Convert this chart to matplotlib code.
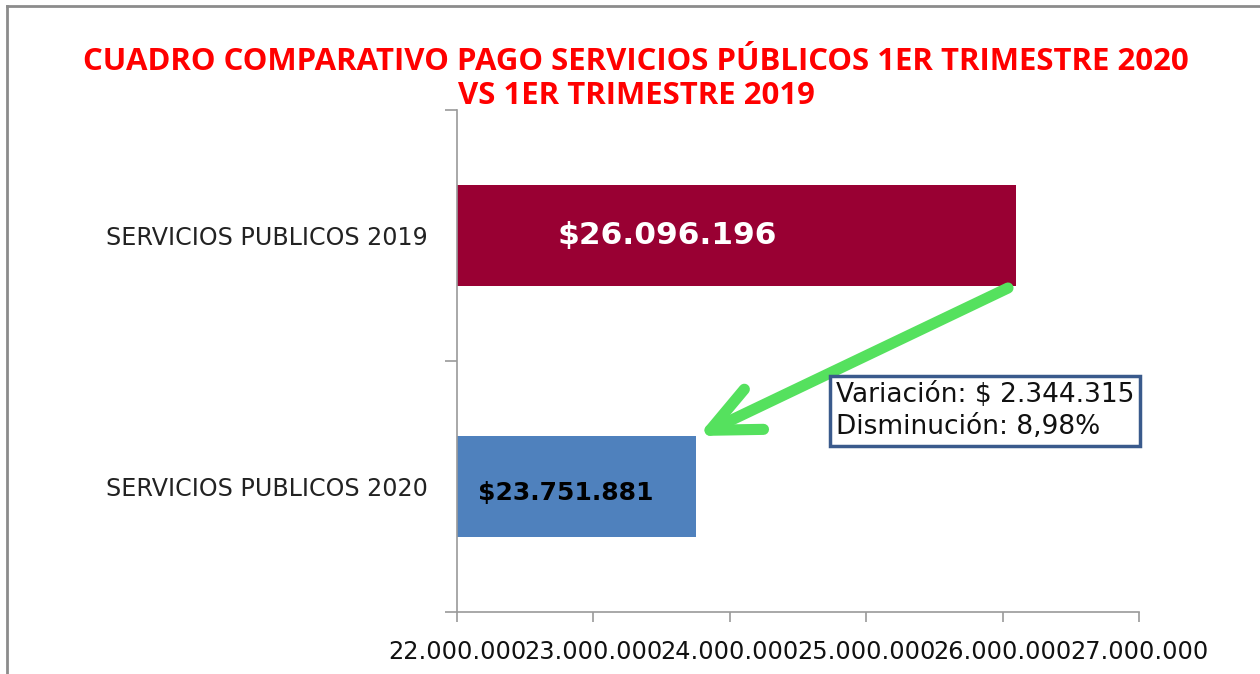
import matplotlib
matplotlib.use("Agg")
import matplotlib.pyplot as plt
from matplotlib import font_manager as fm
from matplotlib.patches import FancyArrowPatch
from matplotlib.lines import Line2D

categories = ["SERVICIOS PUBLICOS 2020", "SERVICIOS PUBLICOS 2019"]
values = [23751881, 26096196]
value_labels = ["$23.751.881", "$26.096.196"]
xticks = [22000000, 23000000, 24000000, 25000000, 26000000, 27000000]
xtick_labels = ["22.000.000", "23.000.000", "24.000.000", "25.000.000", "26.000.000", "27.000.000"]
title = "CUADRO COMPARATIVO PAGO SERVICIOS PÚBLICOS 1ER TRIMESTRE 2020\nVS 1ER TRIMESTRE 2019"
note = "Variación: $ 2.344.315\nDisminución: 8,98%"

avail = {f.name for f in fm.fontManager.ttflist}
def pick(*names):
    for n in names:
        if n in avail:
            return n
    return "DejaVu Sans"
narrow = pick("Open Sans", "Lato")

fig = plt.figure(figsize=(12.6, 6.74), dpi=100)
fig.patch.set_facecolor("white")

# outer frame (left and top)
fig.add_artist(Line2D([7/1260, 7/1260], [0, 1 - 6/674], transform=fig.transFigure, color="#8c8c8c", lw=2))
fig.add_artist(Line2D([7/1260, 1], [1 - 6/674, 1 - 6/674], transform=fig.transFigure, color="#8c8c8c", lw=2))

ax = fig.add_axes([457/1260, 1 - 612/674, (1139 - 457)/1260, (612 - 110)/674])
colors = ["#4F81BD", "#990033"]
ax.barh([0, 1], [v - xticks[0] for v in values], left=xticks[0], height=0.4, color=colors)
ax.set_xlim(xticks[0], xticks[-1])
ax.set_ylim(-0.5, 1.5)

for s in ["top", "right"]:
    ax.spines[s].set_visible(False)
for s in ["left", "bottom"]:
    ax.spines[s].set_color("#9a9a9a")
    ax.spines[s].set_linewidth(1.2)

ax.set_xticks(xticks)
ax.set_xticklabels(xtick_labels, fontsize=17.3, family="DejaVu Sans", color="#111111")
ax.tick_params(axis="x", length=7, width=1.2, color="#9a9a9a", pad=13)
ax.set_yticks([0, 1])
ax.set_yticklabels(categories, fontsize=17.1, family="DejaVu Sans", color="#222222")
ax.set_yticks([-0.5, 0.5, 1.5], minor=True)
ax.tick_params(axis="y", which="major", length=0, pad=21)
ax.tick_params(axis="y", which="minor", length=9, width=1.2, color="#9a9a9a")

# value labels
ax.annotate(value_labels[1], xy=(xticks[0], 1), xytext=(100, 0), textcoords="offset pixels",
            ha="left", va="center", color="white", fontsize=22.5, fontweight="bold", family="DejaVu Sans")
ax.annotate(value_labels[0], xy=(xticks[0], 0), xytext=(21, -6), textcoords="offset pixels",
            ha="left", va="center", color="black", fontsize=18, fontweight="bold", family="DejaVu Sans")

fig.text(636/1260, 1 - 79/674, title, ha="center", va="center", color="#FF0000",
         fontsize=22.4, fontweight="bold", family=narrow, linespacing=1.2)

# green arrow
arr = FancyArrowPatch((1008/1260, 1 - 288/674), (698/1260, 1 - 436/674), transform=fig.transFigure,
                      arrowstyle="->,head_length=1.75,head_width=0.8", color="#55E15E", lw=8,
                      capstyle="round", joinstyle="round", mutation_scale=20,
                      shrinkA=0, shrinkB=0)
fig.add_artist(arr)

fig.text(836/1260, 1 - 411/674, note, ha="left", va="center", fontsize=19, family="DejaVu Sans",
         color="#111111", linespacing=1.32,
         bbox=dict(boxstyle="square,pad=0.22", facecolor="white", edgecolor="#3A5A8C", linewidth=2.5))

fig.savefig("out.png", dpi=100, facecolor="white")
